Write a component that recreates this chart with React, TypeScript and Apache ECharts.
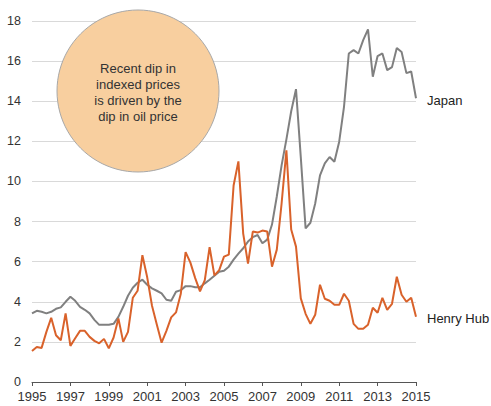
import React, { useEffect, useRef } from "react";
import * as echarts from "echarts";

const quarters: string[] = [];
for (let y = 1995; y <= 2015; y++) {
  for (let q = 0; q < 4; q++) {
    if (y === 2015 && q > 0) break;
    quarters.push(String(y + q * 0.25));
  }
}

const henryHub = [
  1.55, 1.75, 1.7, 2.5,
  3.2, 2.33, 2.08, 3.42,
  1.8, 2.18, 2.55, 2.55,
  2.25, 2.05, 1.93, 2.15,
  1.68, 2.22, 3.17, 2.0,
  2.5, 4.2, 4.55, 6.32,
  5.22, 3.8, 2.87, 1.96,
  2.55, 3.22, 3.47, 4.4,
  6.48, 5.95, 5.18, 4.52,
  5.08, 6.72, 5.32, 5.58,
  6.25, 6.35, 9.8, 11.0,
  7.4, 5.9, 7.5, 7.45,
  7.55, 7.5, 5.75, 6.6,
  8.9, 11.55, 7.6, 6.75,
  4.17, 3.4, 2.9, 3.35,
  4.85, 4.15, 4.05, 3.85,
  3.85, 4.4, 4.05, 2.9,
  2.65, 2.65, 2.85, 3.7,
  3.45, 4.2, 3.6, 3.9,
  5.25, 4.35, 4.0, 4.2,
  3.25,
];

const japan = [
  3.42, 3.55, 3.5, 3.42,
  3.5, 3.65, 3.72, 4.0,
  4.25, 4.05, 3.75, 3.6,
  3.42, 3.1, 2.85, 2.85,
  2.85, 2.9, 3.25, 3.75,
  4.3, 4.7, 4.95, 5.1,
  4.85, 4.67, 4.55, 4.42,
  4.1, 4.05, 4.5, 4.58,
  4.78, 4.78, 4.72, 4.72,
  4.92, 5.1, 5.3, 5.5,
  5.55, 5.75, 6.1, 6.4,
  6.67, 7.0, 7.22, 7.33,
  6.92, 7.1, 7.85, 9.25,
  10.8, 12.1, 13.5, 14.6,
  11.2, 7.66, 7.94, 8.9,
  10.3, 10.9, 11.22, 10.98,
  11.98, 13.72, 16.38, 16.55,
  16.38, 17.05, 17.58, 15.22,
  16.25, 16.38, 15.55, 15.7,
  16.65, 16.45, 15.4, 15.48,
  14.15,
];

const yTicks = [0, 2, 4, 6, 8, 10, 12, 14, 16, 18];
const calloutLines = ["Recent dip in", "indexed prices", "is driven by the", "dip in oil price"];

const FONT = "'Liberation Sans', Arial, sans-serif";

export default function App() {
  const ref = useRef<HTMLDivElement>(null);
  useEffect(() => {
    if (!ref.current) return;
    const chart = echarts.init(ref.current, undefined, { renderer: "svg" });
    const endLabel = {
      show: true,
      formatter: "{a}",
      color: "#222",
      fontSize: 13,
      fontFamily: FONT,
      distance: 11,
      offset: [0, 2],
    };
    chart.setOption({
      animation: false,
      textStyle: { fontFamily: FONT },
      grid: { left: 32, right: 75, top: 21, bottom: 24, containLabel: false },
      xAxis: {
        type: "category",
        data: quarters,
        boundaryGap: false,
        axisLine: { lineStyle: { color: "#555", width: 1 } },
        axisTick: {
          show: true,
          length: 4,
          lineStyle: { color: "#555" },
          interval: (i: number) => i % 8 === 0,
        },
        axisLabel: {
          interval: (i: number) => i % 8 === 0,
          color: "#333",
          fontSize: 13,
          fontFamily: FONT,
          margin: 8,
          formatter: (v: string) => String(Math.round(Number(v))),
        },
        splitLine: { show: false },
      },
      yAxis: {
        type: "value",
        min: 0,
        max: 18,
        interval: 2,
        axisLine: { show: false },
        axisTick: { show: false },
        axisLabel: {
          color: "#333",
          fontSize: 12.5,
          fontFamily: FONT,
          margin: 11,
          formatter: (v: number) => (yTicks.includes(v) ? String(v) : ""),
        },
        splitLine: { lineStyle: { color: "#d9d9d9", width: 1 } },
      },
      series: [
        {
          name: "Japan",
          type: "line",
          data: japan,
          symbol: "none",
          lineStyle: { color: "#808080", width: 2 },
          itemStyle: { color: "#808080" },
          endLabel,
          z: 3,
        },
        {
          name: "Henry Hub",
          type: "line",
          data: henryHub,
          symbol: "none",
          lineStyle: { color: "#d9622b", width: 2 },
          itemStyle: { color: "#d9622b" },
          endLabel,
          z: 4,
        },
      ],
      graphic: [
        {
          type: "circle",
          shape: { cx: 138, cy: 91, r: 81 },
          style: { fill: "#f8cf9f", stroke: "#a8a8a8", lineWidth: 1 },
          z: 100,
        },
        {
          type: "text",
          x: 138,
          y: 92,
          style: {
            text: calloutLines.join("\n"),
            fill: "#333",
            fontSize: 13,
            fontFamily: FONT,
            lineHeight: 16,
            align: "center",
            verticalAlign: "middle",
          },
          z: 101,
        },
      ],
    });
    return () => chart.dispose();
  }, []);
  return <div ref={ref} style={{ width: 491, height: 406, position: "absolute", left: 0, top: 0 }} />;
}
